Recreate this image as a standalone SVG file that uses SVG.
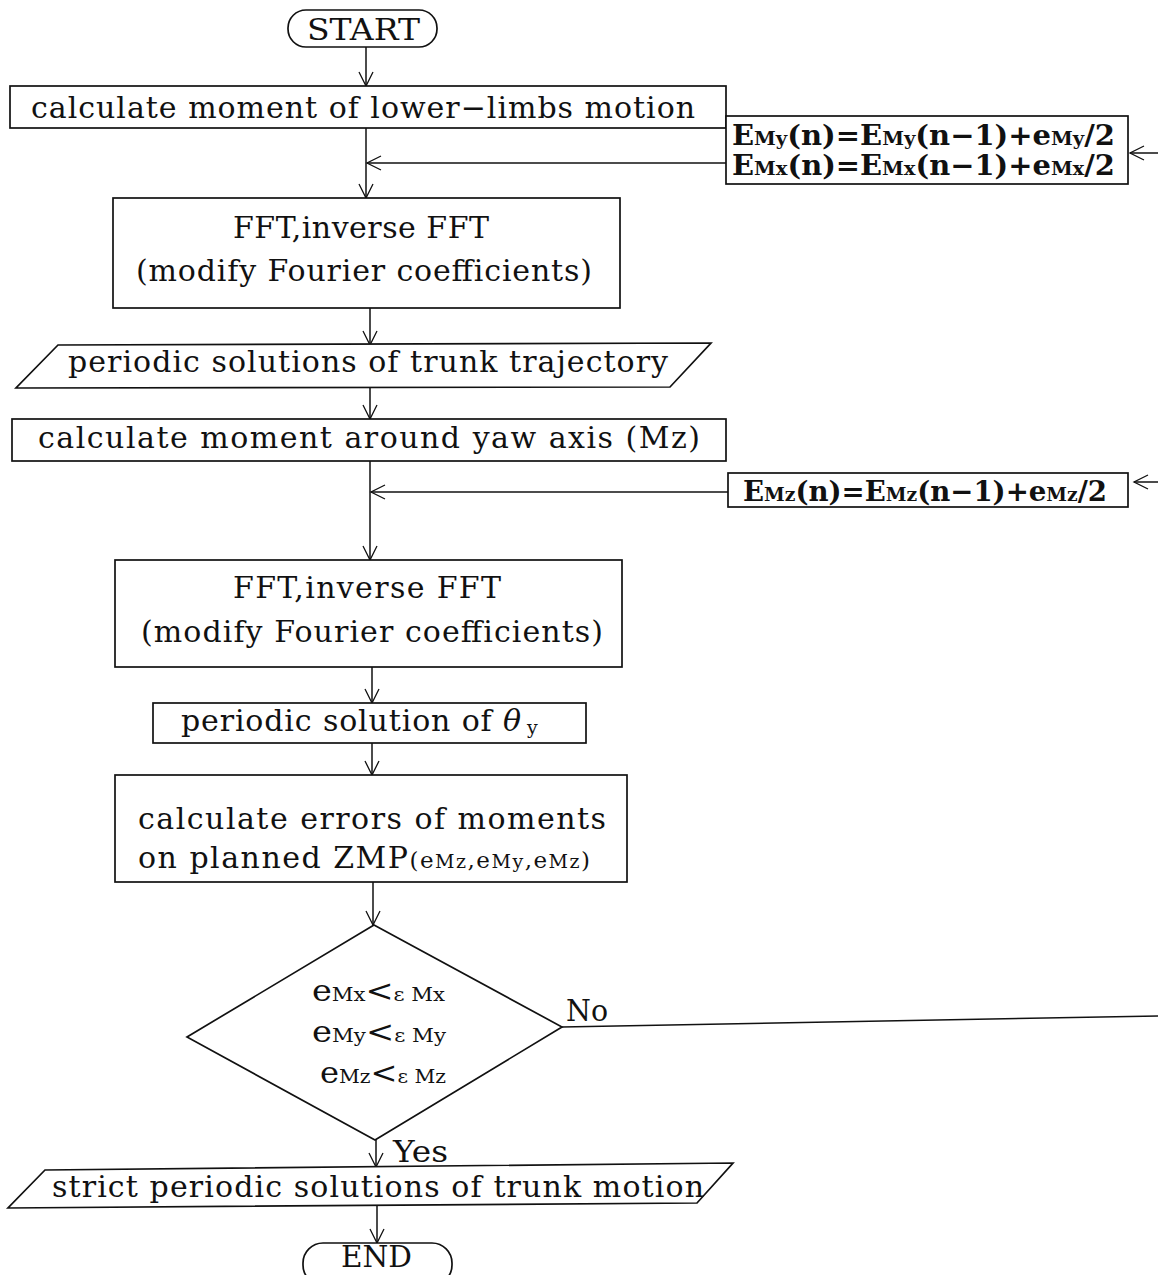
<svg xmlns="http://www.w3.org/2000/svg" width="1158" height="1275" viewBox="0 0 1158 1275">
  <style>
    .shape { fill: #ffffff; stroke: #111111; stroke-width: 1.7; }
    .line { fill: none; stroke: #111111; stroke-width: 1.5; }
    .t { font-family: "DejaVu Serif", "Liberation Serif", serif; font-size: 30px; fill: #111111; }
    .f { font-family: "DejaVu Serif", "Liberation Serif", serif; font-size: 28px; fill: #111111; font-weight: bold; }
    .s { font-size: 19px; }
    .m { font-size: 23px; }
  </style>
  <defs>
    <marker id="open" viewBox="-15 -9 17 18" refX="0" refY="0" markerWidth="17" markerHeight="18" markerUnits="userSpaceOnUse" orient="auto">
      <path d="M-14,-7 L0,0 L-14,7" fill="none" stroke="#111111" stroke-width="1.3"/>
    </marker>
  </defs>

  <!-- connectors -->
  <g id="connectors">
    <line class="line" x1="366" y1="47" x2="366" y2="86" marker-end="url(#open)"/>
    <line class="line" x1="366" y1="128" x2="366" y2="198" marker-end="url(#open)"/>
    <line class="line" x1="726" y1="163" x2="367" y2="163" marker-end="url(#open)"/>
    <line class="line" x1="1158" y1="153" x2="1130" y2="153" marker-end="url(#open)"/>
    <line class="line" x1="370" y1="308" x2="370" y2="345" marker-end="url(#open)"/>
    <line class="line" x1="370" y1="387" x2="370" y2="419" marker-end="url(#open)"/>
    <line class="line" x1="370" y1="461" x2="370" y2="560" marker-end="url(#open)"/>
    <line class="line" x1="728" y1="492" x2="371" y2="492" marker-end="url(#open)"/>
    <line class="line" x1="1158" y1="482" x2="1134" y2="482" marker-end="url(#open)"/>
    <line class="line" x1="372" y1="667" x2="372" y2="703" marker-end="url(#open)"/>
    <line class="line" x1="372" y1="743" x2="372" y2="775" marker-end="url(#open)"/>
    <line class="line" x1="373" y1="882" x2="373" y2="925" marker-end="url(#open)"/>
    <line class="line" x1="376" y1="1140" x2="376" y2="1167" marker-end="url(#open)"/>
    <line class="line" x1="377" y1="1206" x2="377" y2="1243" marker-end="url(#open)"/>
    <line class="line" x1="562" y1="1027" x2="1158" y2="1016"/>
    <text class="t" x="566" y="1021" textLength="42" lengthAdjust="spacingAndGlyphs">No</text>
    <text class="t" x="393" y="1162" textLength="55" lengthAdjust="spacingAndGlyphs">Yes</text>
  </g>

  <g id="start">
    <rect class="shape" x="288" y="10" width="149" height="37" rx="18" ry="18"/>
    <text class="t" x="307" y="40" textLength="113" lengthAdjust="spacingAndGlyphs">START</text>
  </g>

  <g id="lower-limbs">
    <rect class="shape" x="10" y="86" width="716" height="42"/>
    <text class="t" x="31" y="118" textLength="664" lengthAdjust="spacing">calculate moment of lower−limbs motion</text>
  </g>

  <g id="correction-xy">
    <rect class="shape" x="726" y="116" width="402" height="68"/>
    <text class="f" x="732" y="145" textLength="383" lengthAdjust="spacingAndGlyphs">E<tspan class="s">My</tspan>(n)=E<tspan class="s">My</tspan>(n−1)+e<tspan class="s">My</tspan>/2</text>
    <text class="f" x="732" y="175" textLength="383" lengthAdjust="spacingAndGlyphs">E<tspan class="s">Mx</tspan>(n)=E<tspan class="s">Mx</tspan>(n−1)+e<tspan class="s">Mx</tspan>/2</text>
  </g>

  <g id="fft-1">
    <rect class="shape" x="113" y="198" width="507" height="110"/>
    <text class="t" x="233" y="238" textLength="256" lengthAdjust="spacing">FFT,inverse FFT</text>
    <text class="t" x="136" y="281" textLength="456" lengthAdjust="spacing">(modify Fourier coefficients)</text>
  </g>

  <g id="trunk-trajectory">
    <polygon class="shape" points="58,345 711,343 670,387 16,388"/>
    <text class="t" x="68" y="372" textLength="600" lengthAdjust="spacing">periodic solutions of trunk trajectory</text>
  </g>

  <g id="yaw-moment">
    <rect class="shape" x="12" y="419" width="714" height="42"/>
    <text class="t" x="38" y="448" textLength="662" lengthAdjust="spacing">calculate moment around yaw axis (Mz)</text>
  </g>

  <g id="correction-z">
    <rect class="shape" x="728" y="473" width="400" height="34"/>
    <text class="f" x="743" y="501" textLength="364" lengthAdjust="spacingAndGlyphs">E<tspan class="s">Mz</tspan>(n)=E<tspan class="s">Mz</tspan>(n−1)+e<tspan class="s">Mz</tspan>/2</text>
  </g>

  <g id="fft-2">
    <rect class="shape" x="115" y="560" width="507" height="107"/>
    <text class="t" x="233" y="598" textLength="268" lengthAdjust="spacing">FFT,inverse FFT</text>
    <text class="t" x="141" y="642" textLength="462" lengthAdjust="spacing">(modify Fourier coefficients)</text>
  </g>

  <g id="theta">
    <rect class="shape" x="153" y="703" width="433" height="40"/>
    <text class="t" x="181" y="731" textLength="340" lengthAdjust="spacing">periodic solution of <tspan font-style="italic">θ</tspan></text>
    <text class="t s" x="527" y="734">y</text>
  </g>

  <g id="moment-errors">
    <rect class="shape" x="115" y="775" width="512" height="107"/>
    <text class="t" x="138" y="829" textLength="468" lengthAdjust="spacing">calculate errors of moments</text>
    <text class="t" x="138" y="868" textLength="452" lengthAdjust="spacing">on planned ZMP<tspan class="m">(e</tspan><tspan class="s">Mz</tspan><tspan class="m">,e</tspan><tspan class="s">My</tspan><tspan class="m">,e</tspan><tspan class="s">Mz</tspan><tspan class="m">)</tspan></text>
  </g>

  <g id="convergence-check">
    <polygon class="shape" points="374,925 562,1027 375,1140 187,1037"/>
    <text class="t" x="312" y="1001" textLength="133" lengthAdjust="spacingAndGlyphs">e<tspan class="s">Mx</tspan>&lt;<tspan class="s">ε  Mx</tspan></text>
    <text class="t" x="312" y="1042" textLength="134" lengthAdjust="spacingAndGlyphs">e<tspan class="s">My</tspan>&lt;<tspan class="s">ε  My</tspan></text>
    <text class="t" x="320" y="1083" textLength="126" lengthAdjust="spacingAndGlyphs">e<tspan class="s">Mz</tspan>&lt;<tspan class="s">ε  Mz</tspan></text>
  </g>

  <g id="trunk-motion">
    <polygon class="shape" points="45,1170 733,1163 697,1203 8,1208"/>
    <text class="t" x="52" y="1197" textLength="652" lengthAdjust="spacing">strict periodic solutions of trunk motion</text>
  </g>

  <g id="end">
    <rect class="shape" x="303" y="1243" width="149" height="42" rx="20" ry="20"/>
    <text class="t" x="341" y="1267" font-size="26" textLength="71" lengthAdjust="spacingAndGlyphs">END</text>
  </g>
</svg>
